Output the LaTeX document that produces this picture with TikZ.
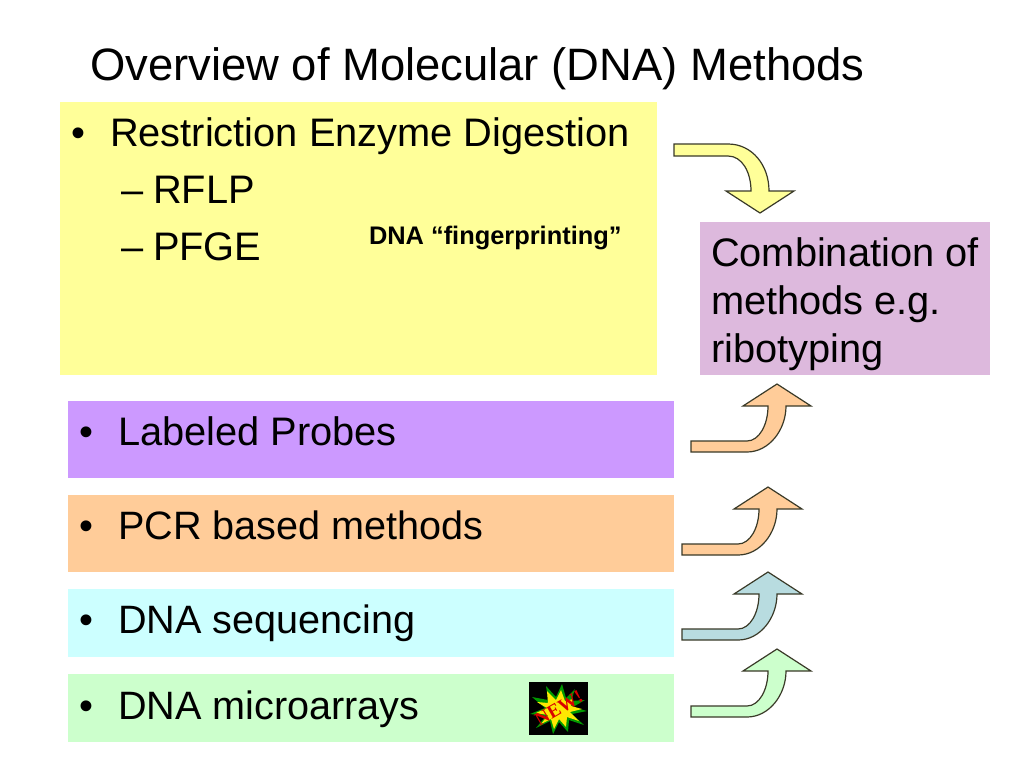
\documentclass[tikz,border=0pt]{standalone}
\usepackage{fontspec}
\setmainfont{Liberation Sans}
\newfontfamily\burstfont{Liberation Serif}
\definecolor{cyel}{HTML}{FFFF99}
\definecolor{cpur}{HTML}{CC99FF}
\definecolor{cora}{HTML}{FFCC99}
\definecolor{ccya}{HTML}{CCFFFF}
\definecolor{cgre}{HTML}{CCFFCC}
\definecolor{cmau}{HTML}{DDB9DD}
\definecolor{cblu}{HTML}{B8DCE0}
\definecolor{cedge}{HTML}{3A3A28}
\tikzset{
  x=1pt,y=-1pt,
  panel/.style={fill=#1,draw=none},
  txt/.style={anchor=base west,inner sep=0pt,outer sep=0pt,font=\fontsize{39.8}{39.8}\selectfont,text=black},
  lowtxt/.style={anchor=base west,inner sep=0pt,outer sep=0pt,font=\fontsize{39.6}{39.6}\selectfont,text=black},
  titletxt/.style={anchor=base west,inner sep=0pt,outer sep=0pt,font=\fontsize{45.4}{45.4}\selectfont,text=black},
  smalltxt/.style={anchor=base west,inner sep=0pt,outer sep=0pt,font=\fontsize{25.4}{25.4}\selectfont\bfseries,text=black},
  blockarrow/.style={fill=#1,draw=cedge,line width=1.2pt,line join=miter},
  pics/uparrow/.style={code={
    \draw[blockarrow=#1] (0,0) -- (0,-11) -- (56,-11)
      .. controls (68,-11) and (77,-27) .. (77,-46) -- (52,-46) -- (86,-68) -- (120,-46) -- (95,-46)
      .. controls (95,-22) and (78,0) .. (56,0) -- cycle;
  }},
}
\begin{document}
\begin{tikzpicture}
\useasboundingbox (0,0) rectangle (1024,768);
\fill[white] (0,0) rectangle (1024,768);
% panels
\fill[panel=cyel] (60,102) rectangle (657,375);
\fill[panel=cpur] (68,401) rectangle (674,478);
\fill[panel=cora] (68,495) rectangle (674,572);
\fill[panel=ccya] (68,589) rectangle (674,657);
\fill[panel=cgre] (68,674) rectangle (674,742);
\fill[panel=cmau] (700,222) rectangle (990,375);
% title
\node[titletxt] (title) at (90,81) {Overview of Molecular (DNA) Methods};
% yellow panel text
\node[txt] (b1) at (71,146) {•};
\node[txt] (t1) at (110,146) {Restriction Enzyme Digestion};
\node[txt] (d1) at (121,203) {–};
\node[txt] (t2) at (153,203) {RFLP};
\node[txt] (d2) at (121,260) {–};
\node[txt] (t3) at (153,260) {PFGE};
\node[smalltxt] (fp) at (369,244) {DNA “fingerprinting”};
% other bullets
\node[txt] (b2) at (79,445) {•};
\node[txt] (t4) at (118,445) {Labeled Probes};
\node[txt] (b3) at (79,539) {•};
\node[lowtxt] (t5) at (118,539) {PCR based methods};
\node[txt] (b4) at (79,633) {•};
\node[lowtxt] (t6) at (118,633) {DNA sequencing};
\node[txt] (b5) at (79,719) {•};
\node[lowtxt] (t7) at (118,719) {DNA microarrays};
% combination
\node[txt] (c1) at (711,266) {Combination of};
\node[txt] (c2) at (711,314) {methods e.g.};
\node[txt] (c3) at (711,362) {ribotyping};
% top arrow
\draw[blockarrow=cyel] (674,144) -- (728,144)
  .. controls (752,144) and (769,165) .. (769,191) -- (794,191) -- (760,213) -- (726,191) -- (751,191)
  .. controls (751,172) and (742,156) .. (728,156) -- (674,156) -- cycle;
% up arrows
\pic at (691,452) {uparrow=cora};
\pic at (682,555) {uparrow=cora};
\pic at (682,640) {uparrow=cblu};
\pic at (691,717) {uparrow=cgre};
% burst
\fill[black] (529,682) rectangle (588,735);
\fill[green!60!black] (585,700) -- (571,701)
 -- (575,689) -- (566,698) -- (562,684) -- (556,697) -- (546,686) -- (548,700)
 -- (532,697) -- (545,708) -- (530,714) -- (546,716) -- (536,728) -- (550,721) -- (553,734) -- (559,722)
 -- (568,732) -- (569,720) -- (584,725) -- (572,714) -- (587,711) -- (573,707) -- cycle;
\fill[yellow!90!orange] (573,699) -- (565,701) -- (561,690) -- (556,700) -- (547,691) -- (548,703)
 -- (537,702) -- (547,708) -- (536,713) -- (548,715) -- (541,724) -- (551,719) -- (554,729) -- (559,719)
 -- (566,727) -- (567,717) -- (579,721) -- (570,712) -- (582,709) -- (571,706) -- cycle;
\node[inner sep=0pt,rotate=30,text=red!85!black,font=\burstfont\fontsize{19}{19}\selectfont\bfseries] (newtag) at (559,708) {NEW!};
\end{tikzpicture}
\end{document}
